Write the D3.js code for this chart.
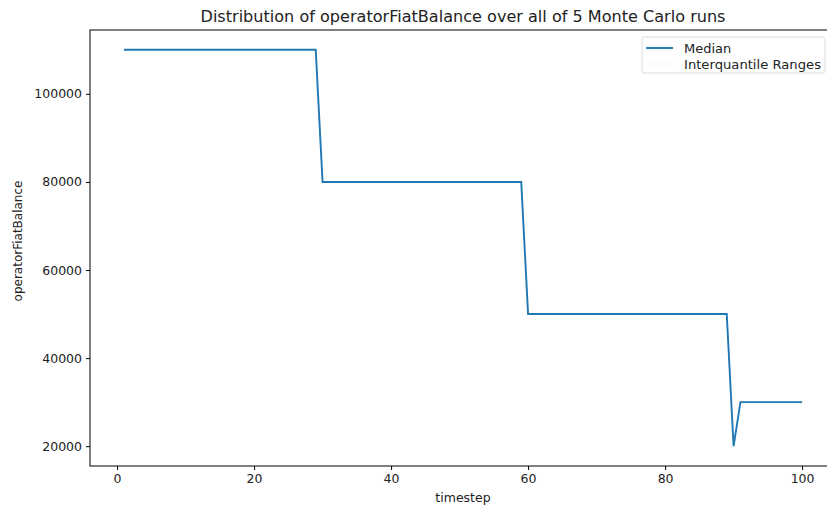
<!DOCTYPE html>
<html>
<head>
<meta charset="utf-8">
<script src="https://cdn.jsdelivr.net/npm/d3@7"></script>
<style>
  body { margin: 0; background: #fff; }
  text { font-family: "DejaVu Sans", sans-serif; fill: #222; }
</style>
</head>
<body>
<div id="chart"></div>
<script>
// timesteps 1..100 and the median of operatorFiatBalance
const timesteps = d3.range(1, 101);
const stepStarts = [1, 30, 60, 90, 91];
const stepValues = [110000, 80000, 50000, 20000, 30000];
const xTicks = [0, 20, 40, 60, 80, 100];
const yTicks = [20000, 40000, 60000, 80000, 100000];

// each timestep takes the value of the last step that started at or before it
const median = timesteps.map(t => {
    let v = stepValues[0];
    stepStarts.forEach((s, i) => { if (t >= s) v = stepValues[i]; });
    return {t: t, v: v};
});

const width = 827, height = 510;
const margin = {top: 30, right: -9, bottom: 44, left: 90};
const innerW = width - margin.left - margin.right;
const innerH = height - margin.top - margin.bottom;

const svg = d3.select("#chart").append("svg")
    .attr("width", width)
    .attr("height", height);

const chart = svg.append("g")
    .attr("transform", `translate(${margin.left},${margin.top})`);

// matplotlib style 5% padding around the data
const xPad = (100 - 1) * 0.05;
const yPad = (110000 - 20000) * 0.05;
const x = d3.scaleLinear().domain([1 - xPad, 100 + xPad]).range([0, innerW]);
const y = d3.scaleLinear().domain([20000 - yPad, 110000 + yPad]).range([innerH, 0]);

// interquantile band (all runs equal, so it collapses onto the median)
chart.append("path")
    .datum(median)
    .attr("fill", "#1f77b4")
    .attr("fill-opacity", 0.1)
    .attr("d", d3.area().x(d => x(d.t)).y0(d => y(d.v)).y1(d => y(d.v)));

chart.append("path")
    .datum(median)
    .attr("fill", "none")
    .attr("stroke", "#1f77b4")
    .attr("stroke-width", 1.9)
    .attr("d", d3.line().x(d => x(d.t)).y(d => y(d.v)));

// axes
const xAxis = chart.append("g")
    .attr("transform", `translate(0,${innerH})`)
    .call(d3.axisBottom(x).tickValues(xTicks).tickSize(4).tickPadding(4).tickFormat(d3.format("d")));
const yAxis = chart.append("g")
    .call(d3.axisLeft(y).tickValues(yTicks).tickSize(4).tickPadding(4).tickFormat(d3.format("d")));

[xAxis, yAxis].forEach(g => {
    g.select(".domain").remove();
    g.selectAll("line").attr("stroke", "#000");
    g.selectAll("text").style("font-size", "12.5px").attr("fill", "#222");
});

// spines
chart.append("rect")
    .attr("x", 0).attr("y", 0)
    .attr("width", innerW).attr("height", innerH)
    .attr("fill", "none")
    .attr("stroke", "#000")
    .attr("stroke-width", 1);

// title and axis titles
svg.append("text")
    .attr("x", margin.left + innerW / 2)
    .attr("y", 22)
    .attr("text-anchor", "middle")
    .attr("textLength", 525)
    .attr("lengthAdjust", "spacingAndGlyphs")
    .style("font-size", "15px")
    .text("Distribution of operatorFiatBalance over all of 5 Monte Carlo runs");

svg.append("text")
    .attr("x", margin.left + innerW / 2)
    .attr("y", 502)
    .attr("text-anchor", "middle")
    .style("font-size", "12.5px")
    .text("timestep");

svg.append("text")
    .attr("transform", "translate(22,241) rotate(-90)")
    .attr("text-anchor", "middle")
    .style("font-size", "12px")
    .text("operatorFiatBalance");

// legend
const legend = svg.append("g").attr("transform", "translate(642,37)");
legend.append("rect")
    .attr("width", 183).attr("height", 36)
    .attr("rx", 2)
    .attr("fill", "#fff")
    .attr("stroke", "#ddd");
legend.append("line")
    .attr("x1", 4).attr("x2", 31)
    .attr("y1", 11).attr("y2", 11)
    .attr("stroke", "#1f77b4")
    .attr("stroke-width", 1.9);
legend.append("rect")
    .attr("x", 4).attr("y", 22)
    .attr("width", 27).attr("height", 9)
    .attr("fill", "#1f77b4")
    .attr("fill-opacity", 0.01);
legend.append("text")
    .attr("x", 42).attr("y", 16)
    .style("font-size", "13px")
    .text("Median");
legend.append("text")
    .attr("x", 42).attr("y", 32)
    .attr("textLength", 137)
    .attr("lengthAdjust", "spacingAndGlyphs")
    .style("font-size", "13px")
    .text("Interquantile Ranges");
</script>
</body>
</html>
